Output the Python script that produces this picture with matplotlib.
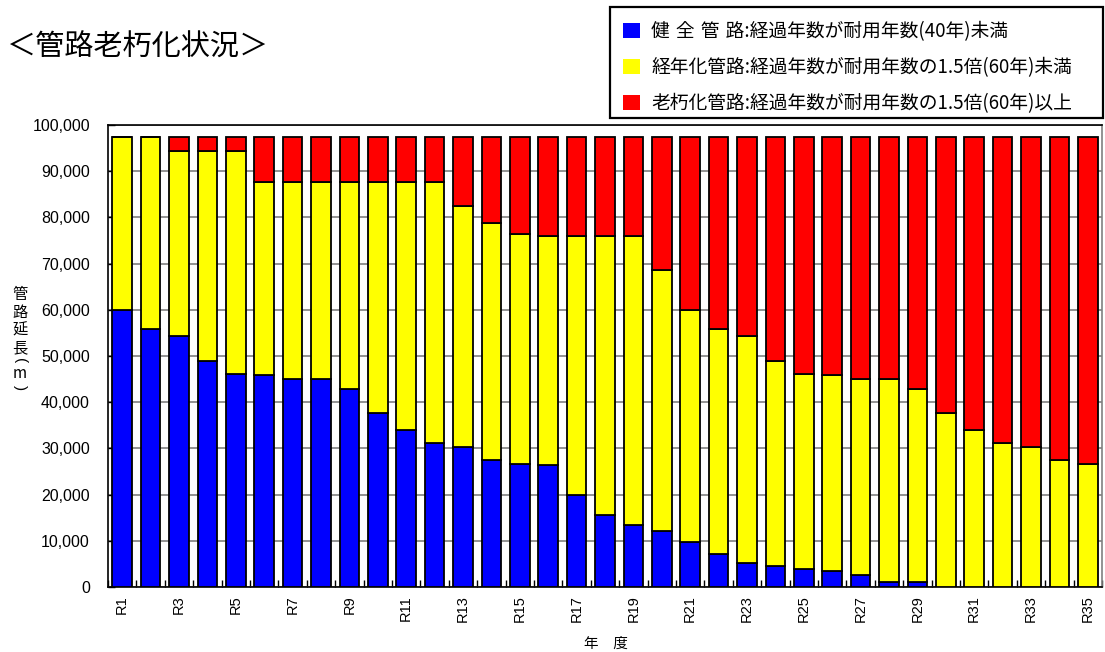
import numpy as np
import matplotlib
matplotlib.use("Agg")
import matplotlib.pyplot as plt
from matplotlib.patches import Patch, Rectangle

plt.rcParams['font.family'] = ['Noto Sans CJK JP', 'DejaVu Sans']

years = [f"R{i}" for i in range(1, 36)]

# 健全管路 (m)
healthy = [60000, 55900, 54300, 48900, 46200, 45900, 45000, 45000, 42900, 37700,
           33900, 31200, 30400, 27400, 26600, 26400, 19900, 15500, 13500, 12200,
           9700, 7200, 5300, 4600, 4000, 3500, 2700, 1000, 1000, 0,
           0, 0, 0, 0, 0]
# 経年化管路 (m)
aging = [37400, 41500, 40000, 45400, 48100, 41800, 42700, 42700, 44800, 50000,
         53800, 56500, 52000, 51400, 49900, 49600, 56100, 60500, 62500, 56400,
         50300, 48700, 49000, 44300, 42200, 42400, 42300, 44000, 41900, 37700,
         33900, 31200, 30400, 27400, 26600]
# 老朽化管路 (m)
old = [0, 0, 3100, 3100, 3100, 9700, 9700, 9700, 9700, 9700,
       9700, 9700, 15000, 18600, 20900, 21400, 21400, 21400, 21400, 28800,
       37400, 41500, 43100, 48500, 51200, 51500, 52400, 52400, 54500, 59700,
       63500, 66200, 67000, 70000, 70800]

labels = ["健\u2004全\u2004管\u2004路:経過年数が耐用年数(40年)未満",
          "経年化管路:経過年数が耐用年数の1.5倍(60年)未満",
          "老朽化管路:経過年数が耐用年数の1.5倍(60年)以上"]
colors = ["#0000FF", "#FFFF00", "#FF0000"]

W, H = 1105, 652
fig = plt.figure(figsize=(W / 100, H / 100), dpi=100)
ax = fig.add_axes([0.0977, 0.0997, 0.8995, 0.7086])

x = np.arange(len(years))
h = np.array(healthy)
a = np.array(aging)
o = np.array(old)
kw = dict(width=0.69, edgecolor="black", linewidth=1.3, zorder=3)
ax.bar(x, h, color=colors[0], **kw)
ax.bar(x, a, bottom=h, color=colors[1], **kw)
ax.bar(x, o, bottom=h + a, color=colors[2], **kw)

ax.set_xlim(-0.5, len(years) - 0.5)
ax.set_ylim(0, 100000)
ax.set_yticks(np.arange(0, 100001, 10000))
ax.set_yticklabels([f"{v:,}" for v in range(0, 100001, 10000)],
                   family="Liberation Sans", fontsize=11.5)
ax.yaxis.grid(True, color="#808080", linewidth=1.2, zorder=0)
ax.tick_params(axis="y", direction="in", length=5, width=1, pad=13)

ax.set_xticks(x[::2])
ax.set_xticklabels(years[::2], rotation=90, family="Liberation Sans",
                   fontsize=10.5)
ax.set_xticks(np.arange(-0.5, len(years)), minor=True)
ax.tick_params(axis="x", which="major", length=0, pad=6)
ax.tick_params(axis="x", which="minor", direction="in", length=5, width=1)

for s in ax.spines.values():
    s.set_color("black")
    s.set_linewidth(1.2)
ax.spines["right"].set_color("#808080")

# x axis title
fig.text(606 / W, 1 - 644 / H, "年\u2003度", fontsize=10.5,
         ha="center", va="center")

# vertical y axis title, one character per line (brackets turned sideways)
ylab = [("管", 295, 0), ("路", 312, 0), ("延", 330, 0), ("長", 348, 0),
        ("(", 361, -90), ("m", 374, 0), (")", 388, -90)]
for ch, py, rot in ylab:
    fam = "Liberation Sans" if rot else None
    fig.text(20 / W, 1 - py / H, ch, fontsize=11, ha="center",
             va="center", rotation=rot, family=fam)

fig.text(0.006, 1 - 48 / H, "＜管路老朽化状況＞", fontsize=21, ha="left",
         va="center")

# legend entries without frame, box drawn separately
handles = [Patch(facecolor=c, edgecolor="none") for c in colors]
leg = fig.legend(handles, labels, loc="upper left",
                 bbox_to_anchor=(623 / W, 1 - 21 / H), fontsize=13.5,
                 frameon=False, handlelength=0.9, handleheight=0.9,
                 handletextpad=0.6, labelspacing=0.8, borderpad=0,
                 borderaxespad=0)
fig.add_artist(Rectangle((610 / W, 1 - 118 / H), 493 / W, 111 / H,
                         transform=fig.transFigure, fill=False,
                         edgecolor="black", linewidth=1.6))

fig.savefig("out.png", dpi=100, facecolor="white")
